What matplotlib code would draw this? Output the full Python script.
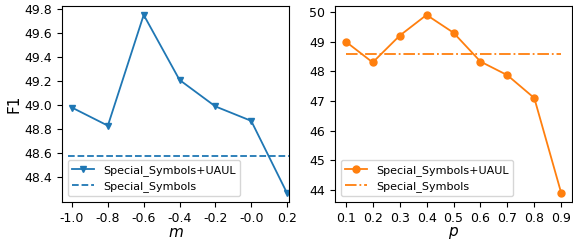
import numpy as np
from matplotlib import pyplot as plt

# region: data
m_values = [-1.0, -0.8, -0.6, -0.4, -0.2, 0.0, 0.2]
m_labels = ['-1.0', '-0.8', '-0.6', '-0.4', '-0.2', '-0.0', '0.2']
f1_m = [48.98, 48.83, 49.75, 49.21, 48.99, 48.87, 48.27]
p_values = [0.1, 0.2, 0.3, 0.4, 0.5, 0.6, 0.7, 0.8, 0.9]
f1_p = [49.0, 48.3, 49.2, 49.9, 49.3, 48.33, 47.87, 47.1, 43.9]
baseline = 48.58
# endregion

plt.rcParams['font.size'] = 9
plt.rcParams['axes.labelsize'] = 11
plt.rcParams['lines.linewidth'] = 1.3
plt.rcParams['lines.markersize'] = 5

fig = plt.figure(figsize=(5.73, 2.42), dpi=100)
ax1 = fig.add_axes([62/573, 40/242, 227/573, 196/242])
ax2 = fig.add_axes([335/573, 40/242, 237/573, 196/242])

# left: m
ax1.plot(m_values, f1_m, marker='v', color='C0', label='Special_Symbols+UAUL')
ax1.set_xlim(-1.056, 0.211)
ax1.hlines(baseline, -1.022, 0.211, colors='C0', linestyles='--', label='Special_Symbols')
ax1.set_xlabel(r'$m$', labelpad=0)
ax1.set_ylabel('F1', labelpad=2)
ax1.set_xticks(m_values)
ax1.set_xticklabels(m_labels)
ax1.set_yticks(np.arange(48.4, 49.81, 0.2))
ax1.legend(loc='lower left', fontsize=8)

# right: p
ax2.plot(p_values, f1_p, marker='o', color='C1', label='Special_Symbols+UAUL')
ax2.hlines(baseline, p_values[0], p_values[-1], colors='C1', linestyles='-.', label='Special_Symbols')
ax2.set_xlabel(r'$p$', labelpad=0)
ax2.set_xticks(p_values)
ax2.legend(loc='lower left', fontsize=8)

plt.savefig('out.png', dpi=100)
